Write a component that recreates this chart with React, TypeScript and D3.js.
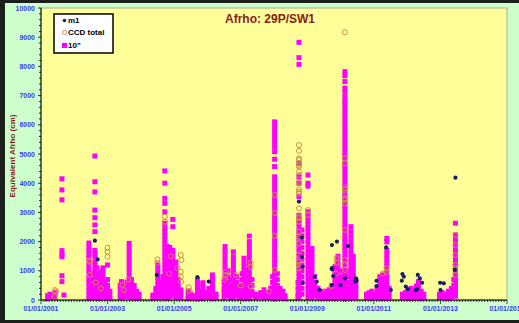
import React from 'react'
import * as d3 from 'd3'

// decimal year, value (cm)
const m1: [number, number][] = [
  [2002.62, 2030], [2002.7, 1390],
  [2004.48, 860],
  [2005.7, 780], [2006.04, 630],
  [2008.75, 3370], [2008.84, 2140], [2008.84, 1480], [2008.86, 1140], [2008.86, 590],
  [2009.22, 800], [2009.28, 630], [2009.37, 340],
  [2009.74, 1880], [2009.89, 2000], [2009.74, 1090], [2009.74, 1050], [2009.78, 820], [2009.74, 510],
  [2010.0, 510], [2010.22, 1850], [2010.14, 740], [2010.46, 740], [2010.44, 630], [2010.48, 660],
  [2011.08, 660], [2011.08, 480], [2011.37, 1800], [2011.51, 340],
  [2011.86, 890], [2011.9, 800], [2011.84, 660], [2011.96, 460], [2012.02, 370],
  [2012.32, 860], [2012.38, 740], [2012.45, 590], [2012.3, 370], [2012.26, 340],
  [2012.99, 590], [2013.1, 570], [2013.0, 340], [2013.43, 1030], [2013.45, 4190],
]

const ccdTotal: [number, number][] = [
  [2001.42, 340], [2001.45, 300], [2001.4, 110],
  [2002.47, 1310], [2002.47, 860], [2002.44, 1350], [2003.0, 1790], [2003.0, 1650], [2003.0, 1480],
  [2002.65, 600], [2002.8, 400],
  [2003.49, 340], [2003.45, 520], [2003.62, 700],
  [2004.5, 1390], [2004.5, 1270], [2004.72, 2850], [2004.72, 2680], [2005.2, 1540], [2005.22, 1370],
  [2005.2, 970], [2005.2, 800], [2005.21, 630], [2004.9, 1500], [2005.1, 1100], [2004.85, 900],
  [2005.44, 435], [2005.46, 320],
  [2006.55, 970], [2006.55, 860], [2006.86, 860], [2007.3, 1280], [2007.3, 1140], [2007.3, 460],
  [2006.5, 700], [2007.0, 500],
  [2008.02, 3600], [2008.02, 2980], [2008.02, 1030], [2008.02, 2200], [2007.85, 300],
  [2008.75, 5310], [2008.75, 5110], [2008.75, 4850], [2008.75, 4800], [2008.75, 4620], [2008.75, 4570],
  [2008.75, 4400], [2008.75, 4280], [2008.75, 4050], [2008.75, 4000], [2008.75, 3790], [2008.75, 3710],
  [2008.75, 3650], [2008.75, 3140], [2008.75, 2850], [2008.75, 2800], [2008.75, 2680], [2008.75, 2340],
  [2008.75, 2170], [2008.75, 1940], [2008.75, 1540], [2008.75, 1310], [2008.75, 1200], [2008.75, 1090],
  [2009.02, 3080], [2009.02, 2910],
  [2010.13, 9170], [2010.13, 4850], [2010.13, 4680], [2010.13, 3830], [2010.13, 3430], [2010.13, 3310],
  [2010.13, 3770], [2010.13, 3480], [2010.13, 2400], [2010.13, 1370], [2010.13, 1200], [2010.13, 1030],
  [2009.88, 1430], [2009.88, 1280], [2009.86, 910], [2009.72, 480],
  [2011.27, 910], [2011.38, 1090], [2011.38, 970],
  [2013.45, 2230], [2013.45, 1880], [2013.45, 1540], [2013.45, 1200], [2013.45, 1090], [2013.45, 860],
]

// 10" telescope: decimal year, list of values on that night
const tenInch: [number, number[]][] = [
  [2001.2, [50, 150]], [2001.27, [80, 200]], [2001.42, [100, 250]],
  [2001.63, [4150, 3770, 3430, 1690, 1550, 1480, 830, 630]], [2001.69, [170]],
  [2002.44, [1950, 1820, 1700, 1560, 1420, 1300, 1160, 1020, 880, 740, 600, 460, 320, 180, 60]],
  [2002.5, [900, 700, 500, 350, 200, 80]], [2002.58, [400, 250, 120]],
  [2002.62, [4930, 4050, 3700, 3080, 2820, 2570, 2340, 1700, 1600, 1480, 1300, 1200, 1060, 920, 780, 640, 500, 360, 220, 80]],
  [2002.68, [1100, 900, 700, 560, 420, 280, 140]], [2002.75, [800, 600, 450, 300, 150, 50]],
  [2002.8, [950, 750, 500, 300, 150]], [2002.86, [1100, 960, 820, 680, 540, 400, 260, 120]],
  [2002.93, [600, 400, 250, 100]], [2003.0, [1200, 700, 500, 350, 200, 60]], [2003.07, [300, 150, 50]],
  [2003.38, [500, 350, 200, 80]], [2003.42, [630, 500, 360, 220, 100]], [2003.5, [400, 250, 120]],
  [2003.58, [600, 450, 300, 150]],
  [2003.65, [1940, 1800, 1660, 1520, 1380, 1240, 1100, 960, 820, 680, 540, 400, 260, 120]],
  [2003.72, [700, 550, 400, 250, 100]], [2003.8, [500, 350, 200, 80]], [2003.88, [300, 180, 60]],
  [2003.95, [200, 80]],
  [2004.36, [170, 70]], [2004.45, [400, 250, 100]], [2004.51, [1200, 1060, 920, 780, 640, 500, 360, 220, 80]],
  [2004.58, [600, 450, 300, 150]], [2004.66, [800, 650, 500, 350, 200, 80]],
  [2004.72, [4420, 4000, 3480, 3310, 3020, 2630, 2480, 2340, 2200, 2060, 1920, 1780, 1640, 1500, 1360, 1220, 1080, 940, 800, 660, 520, 380, 240, 100]],
  [2004.8, [1830, 1700, 1560, 1420, 1280, 1140, 1000, 860, 720, 580, 440, 300, 160, 50]],
  [2004.87, [1800, 1660, 1520, 1380, 1240, 1100, 960, 820, 680, 540, 400, 260, 120]],
  [2004.96, [2760, 2510, 1700, 1560, 1420, 1280, 1140, 1000, 860, 720, 580, 440, 300, 160]],
  [2005.05, [1300, 1150, 1000, 850, 700, 550, 400, 250, 100]], [2005.12, [700, 550, 400, 250, 100]],
  [2005.2, [350, 200, 80]],
  [2005.42, [300, 160, 50]], [2005.5, [200, 80]], [2005.58, [150, 50]], [2005.7, [690, 560, 420, 280, 140, 40]],
  [2005.78, [300, 150, 50]], [2005.86, [590, 450, 310, 170, 50]], [2005.95, [250, 120]],
  [2006.04, [400, 250, 100]], [2006.15, [860, 720, 580, 440, 300, 160, 50]], [2006.26, [200, 80]],
  [2006.5, [600, 400, 250, 100]],
  [2006.53, [1830, 1690, 1550, 1410, 1270, 1130, 990, 850, 710, 570, 430, 290, 150]],
  [2006.62, [1000, 800, 600, 450, 300, 150]], [2006.7, [700, 500, 350, 200, 80]],
  [2006.78, [1650, 1480, 1340, 1200, 1060, 920, 780, 640, 500, 360, 220, 80]],
  [2006.88, [800, 600, 450, 300, 150]], [2006.96, [500, 350, 200, 80]], [2007.04, [900, 700, 500, 350, 200, 80]],
  [2007.1, [1430, 1290, 1150, 1010, 870, 730, 590, 450, 310, 170, 50]],
  [2007.18, [1000, 800, 600, 400, 250, 100]],
  [2007.26, [2190, 2000, 1860, 1720, 1580, 1440, 1300, 1160, 1020, 880, 740, 600, 460, 320, 180, 60]],
  [2007.34, [700, 500, 300, 150]], [2007.45, [200, 80]],
  [2007.6, [250, 120]], [2007.7, [350, 200, 80]], [2007.8, [250, 100]], [2007.9, [400, 250, 100]],
  [2007.96, [800, 600, 400, 200]],
  [2008.02, [6100, 5960, 5820, 5680, 5540, 5400, 5250, 5080, 4820, 4570, 4220, 4080, 3940, 3800, 3660, 3520, 3380, 3240, 3100, 2960, 2820, 2680, 2540, 2400, 2260, 2120, 1980, 1840, 1700, 1560, 1420, 1280, 1140, 1000, 860, 720, 580, 440, 300, 160, 40]],
  [2008.1, [900, 700, 500, 300, 150]], [2008.18, [400, 250, 100]], [2008.27, [300, 150, 50]], [2008.33, [150, 50]],
  [2008.72, [600, 400, 200, 80]],
  [2008.75, [8825, 8300, 8070, 4680, 4220, 4000, 3540, 2900, 2760, 2620, 2480, 2340, 2200, 2060, 1920, 1780, 1640, 1500, 1360, 1220, 1080, 940, 800, 660, 520, 380, 240, 100]],
  [2008.84, [2400, 2200, 2000, 1800, 1600, 1400, 1200, 1000, 800, 600, 400, 200]],
  [2009.02, [4280, 4000, 3900, 3020, 2880, 2740, 2600, 2460, 2320, 2180, 2040, 1900, 1760, 1620, 1480, 1340, 1200, 1060, 920, 780, 640, 500, 360, 220, 80]],
  [2009.14, [1770, 1630, 1490, 1350, 1210, 1070, 930, 790, 650, 510, 370, 230, 90]],
  [2009.22, [800, 600, 450, 300, 150]], [2009.32, [400, 250, 100]], [2009.42, [300, 150, 50]], [2009.5, [200, 80]],
  [2009.58, [300, 150, 50]], [2009.66, [350, 200, 80]], [2009.74, [500, 350, 200, 80]],
  [2009.83, [1140, 1000, 860, 720, 580, 440, 300, 160, 50]],
  [2009.92, [1500, 1360, 1220, 1080, 940, 800, 660, 520, 380, 240, 100]],
  [2010.0, [700, 500, 350, 200, 80]], [2010.06, [1000, 800, 600, 400, 250, 100]],
  [2010.13, [7820, 7680, 7480, 7260, 7120, 6960, 6820, 6740, 6600, 6460, 6320, 6180, 6040, 5900, 5760, 5620, 5480, 5340, 5200, 5060, 4920, 4780, 4640, 4500, 4360, 4220, 4080, 3940, 3800, 3660, 3520, 3380, 3240, 3100, 2960, 2820, 2680, 2540, 2400, 2260, 2120, 1980, 1840, 1700, 1560, 1420, 1280, 1140, 1000, 860, 720, 580, 440, 300, 160, 40]],
  [2010.22, [1000, 800, 600, 400, 250, 100]],
  [2010.31, [2510, 2340, 2170, 2000, 1860, 1720, 1580, 1440, 1300, 1160, 1020, 880, 740, 600, 460, 320, 180, 60]],
  [2010.38, [1500, 1360, 1220, 1080, 940, 800, 660, 520, 380, 240, 100]],
  [2010.46, [690, 550, 400, 250, 100]],
  [2010.78, [200, 80]], [2010.86, [250, 100]], [2010.94, [300, 150, 50]], [2011.02, [200, 80]],
  [2011.1, [400, 250, 100]], [2011.18, [800, 660, 520, 380, 240, 100]],
  [2011.27, [860, 720, 580, 440, 300, 160, 50]],
  [2011.39, [2110, 1990, 1700, 1560, 1420, 1280, 1140, 1000, 860, 720, 580, 440, 300, 160, 50]],
  [2011.46, [400, 250, 100]],
  [2011.86, [200, 80]], [2011.95, [250, 100]], [2012.03, [300, 150, 50]], [2012.12, [400, 250, 100]],
  [2012.2, [300, 150, 50]], [2012.28, [480, 340, 200, 80]], [2012.34, [630, 500, 360, 220, 100]],
  [2012.42, [300, 150, 50]], [2012.5, [200, 80]],
  [2012.97, [200, 80]], [2013.05, [250, 100]], [2013.14, [200, 80]], [2013.24, [300, 150, 50]],
  [2013.33, [400, 250, 100]], [2013.4, [700, 500, 300, 150]],
  [2013.45, [2630, 2230, 2090, 1950, 1810, 1670, 1530, 1390, 1250, 1110, 970, 830, 690, 550, 410, 270, 130]],
]

const yTicks = [0, 1000, 2000, 3000, 4000, 5000, 6000, 7000, 8000, 9000, 10000]
const xTickYears = [2001, 2003, 2005, 2007, 2009, 2011, 2013, 2015]

const toDate = (y: number) => {
  const yr = Math.floor(y)
  const s = new Date(yr, 0, 1).getTime()
  const e = new Date(yr + 1, 0, 1).getTime()
  return new Date(s + (y - yr) * (e - s))
}

const W = 519
const H = 323
const left = 41, right = 507, top = 8, bottom = 300

export default function App() {
  const x = d3.scaleTime().domain([new Date(2001, 0, 1), new Date(2015, 0, 1)]).range([left, right])
  const y = d3.scaleLinear().domain([0, 10000]).range([bottom, top])
  const months = d3.timeMonth.range(new Date(2001, 0, 1), new Date(2015, 0, 2))
  const minorY = d3.range(0, 10001, 200)
  const squares = tenInch.flatMap(([d, vs]) => vs.map(v => [d, v] as [number, number]))
  const tickFont = { fontFamily: 'Arial, "Liberation Sans", sans-serif', fontSize: 7, fontWeight: 700 as const, fill: '#3a3af0' }

  return (
    <div style={{ position: 'absolute', left: 0, top: 0 }}>
      <svg width={W} height={H} style={{ display: 'block' }}>
        <rect x={0} y={0} width={W} height={H} fill="#1c1f1c" />
        <rect x={5} y={3} width={W - 5} height={317} fill="#ccffcc" />
        <rect x={left} y={top} width={right - left} height={bottom - top} fill="#ffff99" stroke="#a8a8a0" strokeWidth={1} />

        <text x={270} y={23} textAnchor="middle" fontFamily='Arial, "Liberation Sans", sans-serif' fontSize={12} fontWeight={700} fill="#8b1c1c">Afrho: 29P/SW1</text>

        <g>
          {squares.map(([d, v], i) => (
            <rect key={'s' + i} x={x(toDate(d)) - 2.5} y={y(v) - 2.5} width={5} height={5} fill="#ff00ff" />
          ))}
          {ccdTotal.map(([d, v], i) => (
            <circle key={'c' + i} cx={x(toDate(d))} cy={y(v)} r={2.5} fill="none" stroke="#c8913f" strokeWidth={1} />
          ))}
          {m1.map(([d, v], i) => (
            <circle key={'m' + i} cx={x(toDate(d))} cy={y(v)} r={2.1} fill="#14206a" />
          ))}
        </g>

        {/* y axis */}
        <line x1={left} x2={left} y1={top} y2={bottom} stroke="#000" strokeWidth={1} />
        {minorY.map(v => (
          <line key={'my' + v} x1={left - (v % 1000 === 0 ? 3 : 2)} x2={left} y1={y(v)} y2={y(v)} stroke="#000" strokeWidth={0.8} />
        ))}
        {yTicks.map(v => (
          <text key={'yt' + v} x={35} y={y(v) + 2.5} textAnchor="end" {...tickFont}>{v}</text>
        ))}

        {/* x axis */}
        <line x1={left} x2={right} y1={bottom} y2={bottom} stroke="#000" strokeWidth={1} />
        {months.map((m, i) => (
          <line key={'mx' + i} x1={x(m)} x2={x(m)} y1={bottom} y2={bottom + (m.getMonth() === 0 && m.getFullYear() % 2 === 1 ? 4 : 2)} stroke="#000" strokeWidth={0.7} />
        ))}
        {xTickYears.map(yr => (
          <text key={'xt' + yr} x={x(new Date(yr, 0, 1))} y={311} textAnchor="middle" {...tickFont}>{`01/01/${yr}`}</text>
        ))}

        <text transform="translate(15,156) rotate(-90)" textAnchor="middle" fontFamily='Arial, "Liberation Sans", sans-serif' fontSize={8} fontWeight={700} fill="#8b1c1c">Equivalent Afrho (cm)</text>

        {/* legend */}
        <rect x={54} y={14} width={59} height={39} fill="#fff" stroke="#000" strokeWidth={1.5} />
        <g fontFamily='Arial, "Liberation Sans", sans-serif' fontSize={8} fontWeight={700} fill="#000">
          <circle cx={64.5} cy={20.5} r={1.8} fill="#14206a" />
          <text x={68} y={23.3}>m1</text>
          <circle cx={64.5} cy={32.5} r={2.1} fill="none" stroke="#c8913f" strokeWidth={0.9} />
          <text x={68} y={35.3}>CCD total</text>
          <rect x={62} y={43} width={5} height={5} fill="#ff00ff" />
          <text x={68} y={48.3}>10"</text>
        </g>
      </svg>
    </div>
  )
}
